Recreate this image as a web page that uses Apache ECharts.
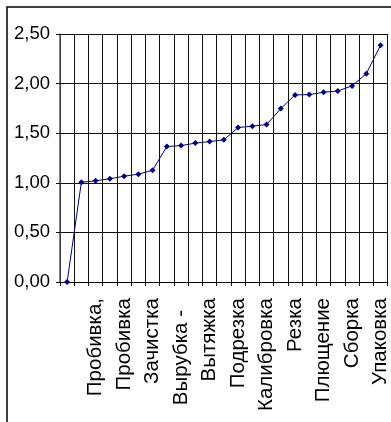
<!DOCTYPE html>
<html>
<head>
<meta charset="utf-8">
<script src="https://cdn.jsdelivr.net/npm/echarts@6/dist/echarts.min.js"></script>
<style>
  html, body { margin: 0; padding: 0; background: #fff; }
  #chart { width: 391px; height: 422px; }
</style>
</head>
<body>
<div id="chart"></div>
<script>
// Operations, in order of cumulative labour share
const operations = [
  '', 'Рубка', 'Пробивка,', 'Гибка', 'Пробивка', 'Правка', 'Зачистка',
  'Штамповка', 'Вырубка -', 'Отбортовка', 'Вытяжка', 'Зенковка', 'Подрезка',
  'Сверление', 'Калибровка', 'Нарезка', 'Резка', 'Рихтовка', 'Плющение',
  'Сварка', 'Сборка', 'Контроль', 'Упаковка'
];

// Cumulative value per operation
const cumulative = [
  0.00, 1.006, 1.02, 1.04, 1.067, 1.087, 1.127,
  1.366, 1.375, 1.40, 1.416, 1.433, 1.557,
  1.571, 1.587, 1.748, 1.886, 1.889, 1.913,
  1.926, 1.977, 2.10, 2.387
];

// Value axis ticks
const yTicks = { min: 0, max: 2.5, step: 0.5 };

const FONT = '"Liberation Sans", Arial, sans-serif';
const fmt = v => v.toFixed(2).replace('.', ',');

const chart = echarts.init(document.getElementById('chart'), null, { renderer: 'canvas' });

chart.setOption({
  backgroundColor: '#fff',
  animation: false,
  graphic: [{
    type: 'rect',
    shape: { x: 7, y: 7, width: 420, height: 440 },
    style: { fill: 'none', stroke: '#000', lineWidth: 1.5 },
    silent: true,
    z: -1
  }],
  grid: { left: 60, top: 34, width: 330, height: 248 },
  xAxis: {
    type: 'category',
    data: operations,
    boundaryGap: true,
    axisLine: { show: true, lineStyle: { color: '#000', width: 1 } },
    axisTick: { show: true, interval: 0, length: 4, lineStyle: { color: '#000' } },
    splitLine: { show: true, interval: 0, lineStyle: { color: '#111', width: 1 } },
    axisLabel: {
      interval: 1,
      rotate: 90,
      margin: 16,
      fontFamily: FONT,
      fontSize: 20.5,
      color: '#000',
      formatter: v => v.endsWith('-') ? '{pad|' + v + '}' : v,
      rich: { pad: { fontFamily: FONT, fontSize: 20.5, color: '#000', padding: [0, 12, 0, 0] } }
    }
  },
  yAxis: {
    type: 'value',
    min: yTicks.min,
    max: yTicks.max,
    interval: yTicks.step,
    axisLine: { show: true, lineStyle: { color: '#555', width: 1.5 } },
    axisTick: { show: true, length: 4, lineStyle: { color: '#000' } },
    splitLine: { show: true, lineStyle: { color: '#111', width: 1 } },
    axisLabel: {
      margin: 10,
      fontFamily: FONT,
      fontSize: 18.5,
      color: '#000',
      formatter: fmt
    }
  },
  series: [{
    type: 'line',
    data: cumulative,
    symbol: 'diamond',
    symbolSize: 6,
    showSymbol: true,
    lineStyle: { color: '#000080', width: 1 },
    itemStyle: { color: '#000080' }
  }]
});
</script>
</body>
</html>
